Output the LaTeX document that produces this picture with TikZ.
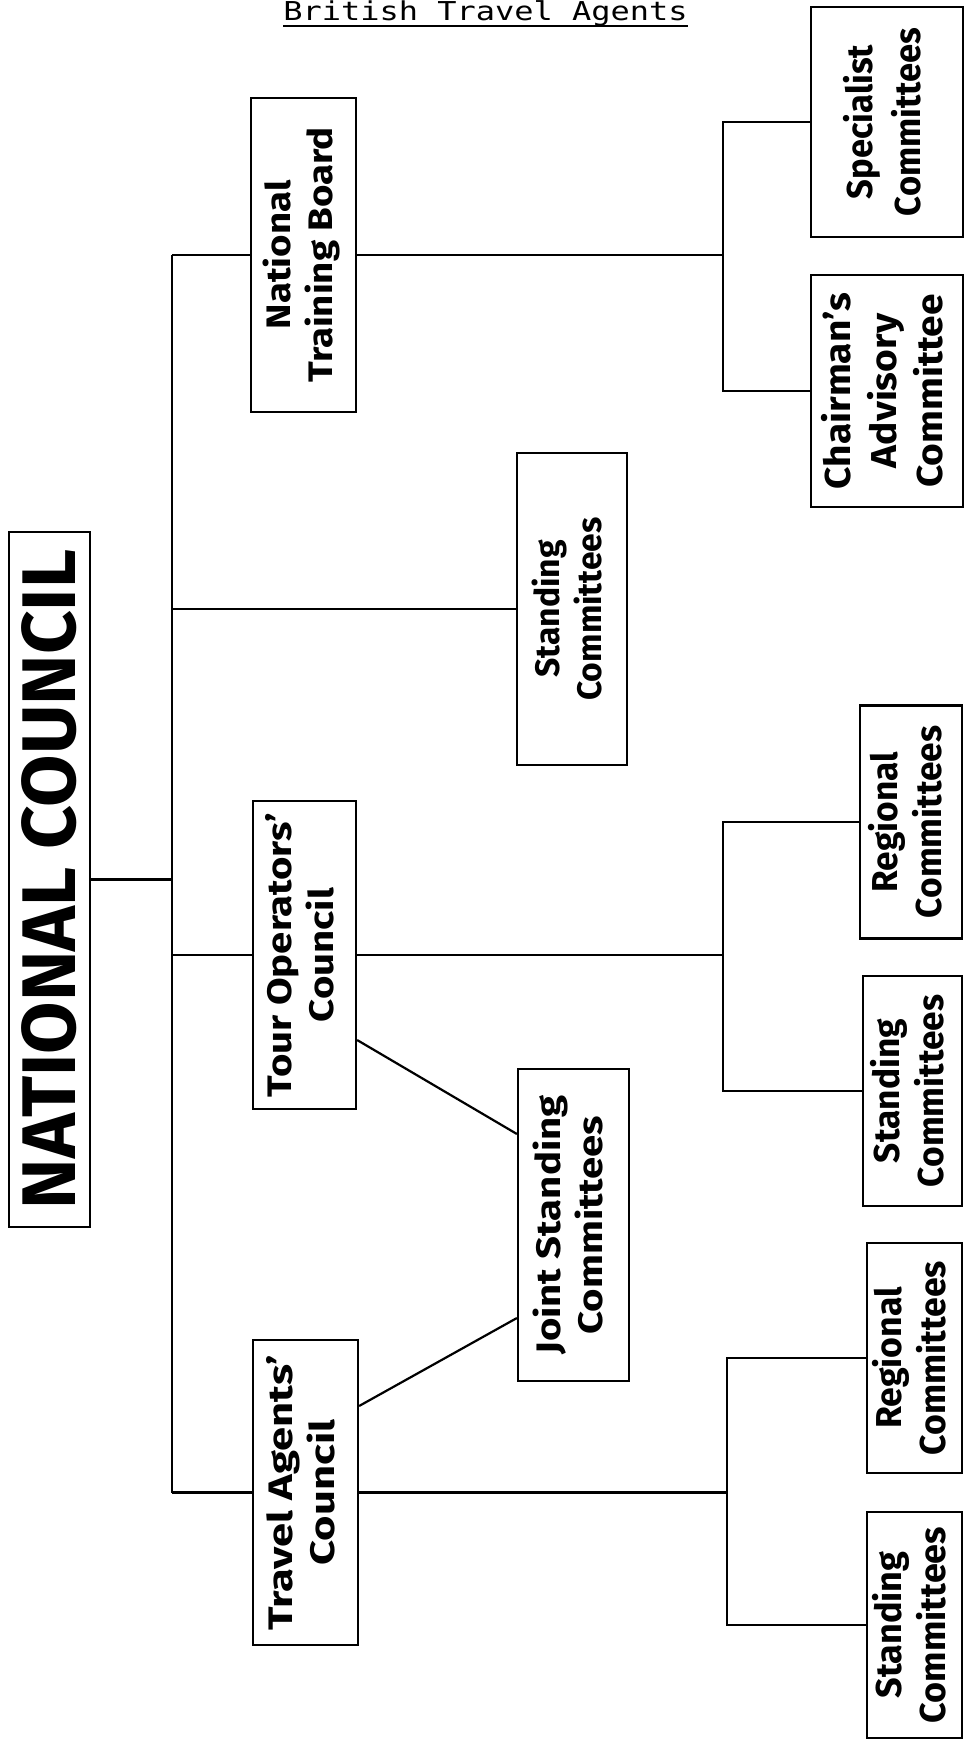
\documentclass[tikz,border=0pt]{standalone}
\usepackage{fontspec}
\setmainfont{Fira Sans}
\newfontfamily\titlefont{DejaVu Sans Mono}
\newcommand\boxtext[4]{\rotatebox{90}{\scalebox{#3}[1]{\fontsize{#1}{#2}\selectfont\bfseries\begin{tabular}{@{}c@{}}#4\end{tabular}}}}
\begin{document}
\begin{tikzpicture}[x=1pt,y=-1pt,
  box/.style={draw, line width=2.2pt, inner sep=0pt, align=center},
  conn/.style={line width=2.2pt}]
\useasboundingbox (0,0) rectangle (965,1739);
% title
\node[inner sep=0pt, anchor=base] (title) at (485.5,21) {\scalebox{1.23}[1]{\titlefont\fontsize{26}{26}\selectfont British Travel Agents}};
\draw[line width=2pt] ([yshift=-5pt]title.base west) -- ([yshift=-5pt]title.base east);
% boxes
\node[box, minimum width=81pt, minimum height=695pt] (nc) at (49.5,879.5) {\rotatebox{90}{\fontsize{76}{76}\selectfont\bfseries NATIONAL COUNCIL}};
\node[box, minimum width=105pt, minimum height=314pt] (ntb) at (303.5,255) {\boxtext{34}{42}{1.13}{National\\Training Board}};
\node[box, minimum width=110pt, minimum height=312pt] (msc) at (572,609) {\boxtext{34}{42}{0.99}{Standing\\Committees}};
\node[box, minimum width=103pt, minimum height=308pt] (toc) at (304.5,955) {\boxtext{34}{42}{1.18}{Tour Operators’\\Council}};
\node[box, minimum width=105pt, minimum height=305pt] (tac) at (305.5,1492.5) {\boxtext{34}{42}{1.28}{Travel Agents’\\Council}};
\node[box, minimum width=111pt, minimum height=312pt] (jsc) at (573.5,1225) {\boxtext{34}{42}{1.18}{Joint Standing\\Committees}};
\node[box, minimum width=152pt, minimum height=230pt] (spec) at (887,122) {\boxtext{36}{48}{0.96}{Specialist\\Committees}};
\node[box, minimum width=152pt, minimum height=232pt] (chair) at (887,391) {\boxtext{36}{46}{1.08}{Chairman’s\\Advisory\\Committee}};
\node[box, minimum width=102pt, minimum height=233pt] (reg1) at (911,822) {\boxtext{36}{44}{0.98}{Regional\\Committees}};
\node[box, minimum width=99pt, minimum height=230pt] (std1) at (912.5,1091) {\boxtext{36}{44}{0.98}{Standing\\Committees}};
\node[box, minimum width=95pt, minimum height=230pt] (reg2) at (914.5,1358) {\boxtext{36}{44}{0.99}{Regional\\Committees}};
\node[box, minimum width=95pt, minimum height=226pt] (std2) at (914.5,1625) {\boxtext{36}{44}{1.0}{Standing\\Committees}};
% bus coordinates
\coordinate (mx) at (172,0);
\coordinate (rx1) at (723,0);
\coordinate (rx2) at (723,0);
\coordinate (rx3) at (727,0);
\coordinate (j1) at (0,1040);
\coordinate (j2) at (0,1134);
\coordinate (j3) at (0,1406);
\coordinate (j4) at (0,1318);
% main bus
\draw[conn] (ntb.west -| mx) -- (tac.west -| mx);
\draw[conn] (nc.east) -- (nc.east -| mx);
\draw[conn] (ntb.west -| mx) -- (ntb.west);
\draw[conn] (msc.west -| mx) -- (msc.west);
\draw[conn] (toc.west -| mx) -- (toc.west);
\draw[conn] (tac.west -| mx) -- (tac.west);
% NTB branch
\draw[conn] (ntb.east) -- (ntb.east -| rx1);
\draw[conn] (spec.west) -- (spec.west -| rx1) -- (chair.west -| rx1) -- (chair.west);
% TOC branch
\draw[conn] (toc.east) -- (toc.east -| rx2);
\draw[conn] (reg1.west) -- (reg1.west -| rx2) -- (std1.west -| rx2) -- (std1.west);
% TAC branch
\draw[conn] (tac.east) -- (tac.east -| rx3);
\draw[conn] (reg2.west) -- (reg2.west -| rx3) -- (std2.west -| rx3) -- (std2.west);
% joint
\draw[conn] (toc.east |- j1) -- (jsc.west |- j2);
\draw[conn] (tac.east |- j3) -- (jsc.west |- j4);
\end{tikzpicture}
\end{document}
